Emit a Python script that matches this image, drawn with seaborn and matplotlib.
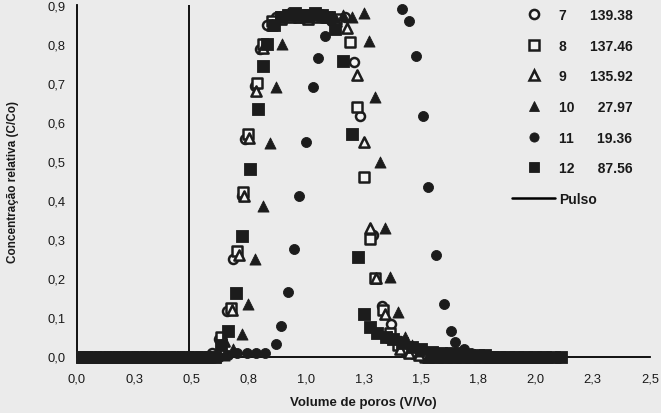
import matplotlib
matplotlib.use("Agg")
import matplotlib.pyplot as plt
from matplotlib.lines import Line2D
import seaborn as sns
import pandas as pd

sns.set_theme(style="white")
plt.rcParams['font.family'] = ['Liberation Sans', 'DejaVu Sans']

# ---------------- data ----------------
x7 = [0.02,0.04,0.08,0.12,0.16,0.20,0.24,0.28,0.32,0.36,0.40,0.44,0.48,0.52,0.56,
      0.59,0.62,0.655,0.68,0.72,0.735,0.775,0.80,0.83,
      0.87,0.91,0.95,0.99,1.03,1.07,1.11,
      1.17,1.21,1.235,1.29,1.33,1.37,1.41,1.45,1.49,1.53,
      1.57,1.61,1.65,1.69,1.73,1.77,1.81,1.85,1.89,1.93,1.97,2.01,2.05]
y7 = [0,0,0,0,0,0,0,0,0,0,0,0,0,0,0,
      0.01,0.045,0.117,0.25,0.41,0.557,0.692,0.787,0.85,
      0.87,0.875,0.87,0.875,0.87,0.87,0.865,
      0.87,0.753,0.616,0.31,0.13,0.083,0.04,0.02,0.01,0.005,
      0,0,0,0,0,0,0,0,0,0,0,0,0]

x8 = [0.02,0.06,0.10,0.14,0.18,0.22,0.26,0.30,0.34,0.38,0.42,0.46,0.50,0.54,0.58,
      0.63,0.67,0.70,0.725,0.745,0.785,0.81,0.85,
      0.89,0.93,0.97,1.01,1.05,1.09,1.13,
      1.19,1.22,1.25,1.28,1.30,1.335,1.365,1.40,1.44,1.48,
      1.52,1.56,1.60,1.64,1.68,1.72,1.76,1.80,1.84,1.88,1.92,1.96,2.00,2.04]
y8 = [0,0,0,0,0,0,0,0,0,0,0,0,0,0,0,
      0.05,0.125,0.27,0.42,0.57,0.70,0.80,0.86,
      0.87,0.875,0.87,0.87,0.875,0.87,0.865,
      0.805,0.638,0.46,0.30,0.20,0.12,0.06,0.03,0.015,0.01,
      0,0,0,0,0,0,0,0,0,0,0,0,0,0]

x9 = [0.02,0.05,0.09,0.13,0.17,0.21,0.25,0.29,0.33,0.37,0.41,0.45,0.49,0.53,0.57,
      0.64,0.675,0.705,0.73,0.75,0.78,0.81,0.85,
      0.89,0.93,0.97,1.01,1.05,1.09,1.13,
      1.18,1.22,1.25,1.28,1.305,1.345,1.37,1.41,1.45,1.49,
      1.53,1.57,1.61,1.65,1.69,1.73,1.77,1.81,1.85,1.89,1.93,1.97,2.01,2.05]
y9 = [0,0,0,0,0,0,0,0,0,0,0,0,0,0,0,
      0.04,0.12,0.26,0.41,0.56,0.68,0.79,0.85,
      0.865,0.87,0.87,0.865,0.87,0.87,0.86,
      0.84,0.72,0.55,0.33,0.20,0.11,0.05,0.02,0.01,0.005,
      0,0,0,0,0,0,0,0,0,0,0,0,0,0]

x10 = [0.02,0.04,0.08,0.12,0.16,0.20,0.24,0.28,0.32,0.36,0.40,0.44,0.48,0.52,0.56,0.60,0.64,0.68,
       0.72,0.747,0.777,0.81,0.84,0.87,0.895,0.92,
       0.96,1.00,1.04,1.08,1.12,1.16,1.20,
       1.25,1.274,1.30,1.32,1.345,1.366,1.40,1.43,1.46,1.49,
       1.53,1.57,1.61,1.65,1.69,1.73,1.77,1.81,1.85,1.89,1.93,1.97,2.01,2.05,2.09]
y10 = [0,0,0,0,0,0,0,0,0,0,0,0,0,0,0,0,0.005,0.02,
       0.058,0.134,0.25,0.385,0.547,0.69,0.80,0.88,
       0.875,0.87,0.875,0.87,0.87,0.875,0.87,
       0.88,0.808,0.664,0.497,0.33,0.203,0.113,0.05,0.03,0.015,
       0,0,0,0,0,0,0,0,0,0,0,0,0,0,0]

x11 = [0.02,0.06,0.10,0.14,0.18,0.22,0.26,0.30,0.34,0.38,0.42,0.46,0.50,0.54,0.58,0.62,0.66,0.70,0.74,0.78,0.82,
       0.87,0.89,0.92,0.945,0.97,1.00,1.03,1.05,1.08,1.11,
       1.15,1.19,1.23,1.27,1.31,1.35,1.39,
       1.42,1.45,1.48,1.51,1.53,1.567,1.60,1.63,1.65,1.69,1.72,
       1.76,1.80,1.84,1.88,1.92,1.96,2.00,2.04,2.08]
y11 = [0,0,0,0,0,0,0,0,0,0,0,0,0,0,0,0,0.005,0.01,0.01,0.01,0.01,
       0.032,0.078,0.165,0.275,0.41,0.55,0.69,0.765,0.82,0.86,
       0.93,0.94,0.95,0.95,0.95,0.94,0.93,
       0.89,0.86,0.77,0.616,0.433,0.26,0.134,0.065,0.037,0.02,0.01,
       0,0,0,0,0,0,0,0,0]

x12 = [0.02,0.04,0.08,0.12,0.16,0.20,0.24,0.28,0.32,0.36,0.40,0.44,0.48,0.52,0.56,0.60,
       0.63,0.659,0.694,0.718,0.755,0.79,0.81,0.83,0.86,
       0.89,0.92,0.95,0.98,1.01,1.04,1.07,1.10,
       1.125,1.16,1.20,1.226,1.25,1.28,1.31,1.35,1.38,1.42,1.46,1.50,1.55,
       1.59,1.63,1.67,1.71,1.75,1.78,1.81,1.84,1.88,1.92,1.96,2.00,2.04,2.08,2.11]
y12 = [0,0,0,0,0,0,0,0,0,0,0,0,0,0,0,0,
       0.03,0.066,0.163,0.309,0.48,0.634,0.744,0.80,0.85,
       0.87,0.875,0.88,0.875,0.875,0.88,0.875,0.87,
       0.838,0.757,0.57,0.255,0.108,0.075,0.06,0.05,0.045,0.035,0.025,0.02,0.012,
       0.01,0.01,0.008,0.005,0.005,0.005,0,0,0,0,0,0,0,0,0]

series_ids = ["7", "8", "9", "10", "11", "12"]
series_vals = ["139.38", "137.46", "135.92", "27.97", "19.36", "87.56"]
pulse_x = [0.49, 0.49]
pulse_y = [0.0, 0.9]

x_ticks = [0, 0.25, 0.5, 0.75, 1.0, 1.25, 1.5, 1.75, 2.0, 2.25, 2.5]
x_ticklabels = ["0,0", "0,3", "0,5", "0,8", "1,0", "1,3", "1,5", "1,8", "2,0", "2,3", "2,5"]
y_ticks = [0, 0.1, 0.2, 0.3, 0.4, 0.5, 0.6, 0.7, 0.8, 0.9]
y_ticklabels = ["0,0", "0,1", "0,2", "0,3", "0,4", "0,5", "0,6", "0,7", "0,8", "0,9"]

xs = {"7": x7, "8": x8, "9": x9, "10": x10, "11": x11, "12": x12}
ys = {"7": y7, "8": y8, "9": y9, "10": y10, "11": y11, "12": y12}
for k in series_ids:
    assert len(xs[k]) == len(ys[k]), (k, len(xs[k]), len(ys[k]))

# ---------------- style ----------------
BG = "#ebebeb"
INK = "#1c1c1c"
PAPER = "#f4f4f4"
styles = {
    "7":  dict(marker="o", s=42, fill=False),
    "8":  dict(marker="s", s=50, fill=False),
    "9":  dict(marker="^", s=54, fill=False),
    "10": dict(marker="^", s=64, fill=True),
    "11": dict(marker="o", s=52, fill=True),
    "12": dict(marker="s", s=66, fill=True),
}

fig = plt.figure(figsize=(6.61, 4.14), dpi=100, facecolor=BG)
ax = fig.add_axes([77/661, (414-357.5)/414, 573/661, 351.5/414])
ax.set_facecolor(BG)

draw_order = ["7", "8", "9", "11", "10", "12"]
for k in draw_order:
    st = styles[k]
    df = pd.DataFrame({"x": xs[k], "y": ys[k]})
    sns.scatterplot(data=df, x="x", y="y", ax=ax, marker=st["marker"], s=st["s"],
                    facecolor=(INK if st["fill"] else PAPER), edgecolor=INK,
                    linewidth=(0.6 if st["fill"] else 1.8), clip_on=False, zorder=3,
                    legend=False)

sns.lineplot(x=pulse_x, y=pulse_y, ax=ax, color="black", linewidth=1.3,
             estimator=None, sort=False, legend=False)

ax.set_xlim(0, 2.5)
ax.set_ylim(0, 0.9)
ax.set_xticks(x_ticks)
ax.set_xticklabels(x_ticklabels)
ax.set_yticks(y_ticks)
ax.set_yticklabels(y_ticklabels)
for sp in ["top", "right"]:
    ax.spines[sp].set_visible(False)
for sp in ["left", "bottom"]:
    ax.spines[sp].set_color("black")
    ax.spines[sp].set_linewidth(1.3)
ax.tick_params(axis="both", direction="out", length=5, width=1.3, color="black",
               labelsize=9.3, labelcolor="#1a1a1a")
ax.tick_params(axis="x", pad=6.5)
ax.tick_params(axis="y", pad=3.5)

ax.set_xlabel("Volume de poros (V/Vo)", fontsize=9.5, fontweight="bold", color="#1a1a1a")
ax.set_ylabel("Concentração relativa (C/Co)", fontsize=8.5, fontweight="bold", color="#1a1a1a")
ax.xaxis.set_label_coords(0.5, (357.5-397)/351.5)
ax.yaxis.set_label_coords((19-77)/573, 0.5)

# legend
handles = []
labels = []
for k, v in zip(series_ids, series_vals):
    st = styles[k]
    ms = 6.6 if st["marker"] != "^" else 7.2
    handles.append(Line2D([0], [0], marker=st["marker"], linestyle="", markersize=ms,
                          markerfacecolor=(INK if st["fill"] else PAPER),
                          markeredgecolor=INK, markeredgewidth=(0.6 if st["fill"] else 1.8)))
    labels.append(f"{k}      {v}")
handles.append(Line2D([0], [0], color="black", linewidth=1.8))
labels.append("Pulso")
leg = ax.legend(handles, labels, loc="upper left",
                bbox_to_anchor=((512-77)/573, (357.5-9)/351.5),
                frameon=False, borderpad=0, borderaxespad=0, handlelength=3.1,
                handletextpad=0.3, labelspacing=1.2,
                prop={"family": "Liberation Sans", "weight": "bold", "size": 10})
for t in leg.get_texts():
    t.set_color("#1a1a1a")

fig.savefig("out.png", dpi=100, facecolor=BG)
